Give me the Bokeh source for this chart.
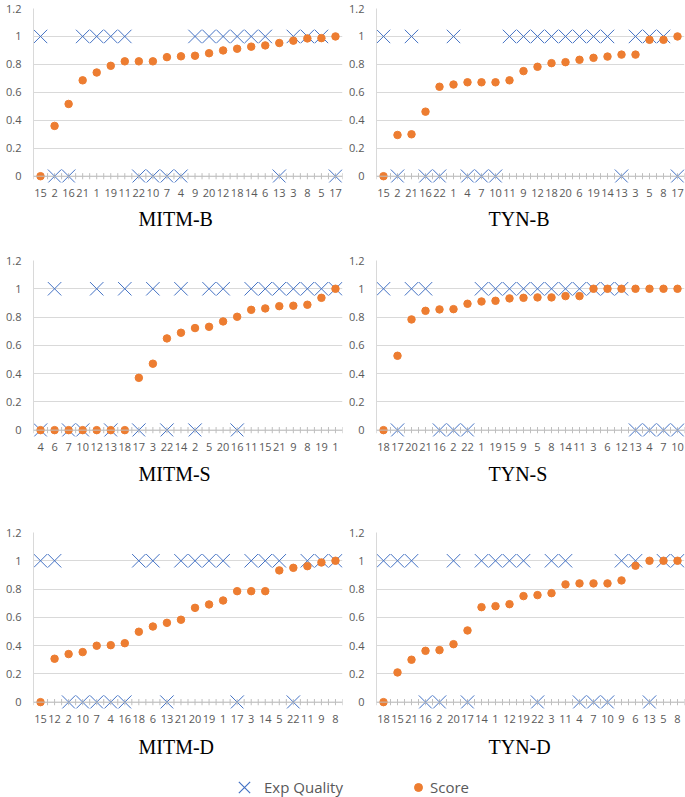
from bokeh.plotting import figure
from bokeh.models import (FactorRange, Range1d, FixedTicker, Span, Legend, LegendItem, Title,
                          ColumnDataSource)
from bokeh.transform import dodge
from bokeh.layouts import column, row
from bokeh.embed import file_html
from bokeh.resources import INLINE

# ---------------- data ----------------
mitm_b_cats = ["15", "2", "16", "21", "1", "19", "11", "22", "10", "7", "4",
               "9", "20", "12", "18", "14", "6", "13", "3", "8", "5", "17"]
mitm_b_exp = [1, 0, 0, 1, 1, 1, 1, 0, 0, 0, 0, 1, 1, 1, 1, 1, 1, 0, 1, 1, 1, 0]
mitm_b_score = [0, 0.36, 0.517, 0.686, 0.742, 0.79, 0.822, 0.822, 0.822, 0.852, 0.858,
                0.862, 0.88, 0.9, 0.912, 0.927, 0.936, 0.953, 0.97, 0.986, 0.988, 1.0]

tyn_b_cats = ["15", "2", "21", "16", "22", "1", "4", "7", "10", "11", "9",
              "12", "18", "20", "6", "19", "14", "13", "3", "5", "8", "17"]
tyn_b_exp = [1, 0, 1, 0, 0, 1, 0, 0, 0, 1, 1, 1, 1, 1, 1, 1, 1, 0, 1, 1, 1, 0]
tyn_b_score = [0, 0.295, 0.30, 0.462, 0.64, 0.656, 0.672, 0.672, 0.672, 0.686, 0.752,
               0.783, 0.809, 0.816, 0.833, 0.847, 0.856, 0.87, 0.87, 0.976, 0.976, 1.0]

mitm_s_cats = ["4", "6", "7", "10", "12", "13", "18", "17", "3", "22", "14",
               "2", "5", "20", "16", "11", "15", "21", "9", "8", "19", "1"]
mitm_s_exp = [0, 1, 0, 0, 1, 0, 1, 0, 1, 0, 1, 0, 1, 1, 0, 1, 1, 1, 1, 1, 1, 1]
mitm_s_score = [0, 0, 0, 0, 0, 0, 0, 0.37, 0.47, 0.649, 0.689,
                0.722, 0.731, 0.769, 0.802, 0.851, 0.861, 0.877, 0.88, 0.887, 0.936, 1.0]

tyn_s_cats = ["18", "17", "20", "21", "16", "2", "22", "1", "19", "15", "9",
              "5", "8", "14", "11", "3", "6", "12", "13", "4", "7", "10"]
tyn_s_exp = [1, 0, 1, 1, 0, 0, 0, 1, 1, 1, 1, 1, 1, 1, 1, 1, 1, 1, 0, 0, 0, 0]
tyn_s_score = [0, 0.526, 0.783, 0.844, 0.854, 0.856, 0.894, 0.91, 0.915, 0.932, 0.936,
               0.939, 0.939, 0.948, 0.948, 1.0, 1.0, 1.0, 1.0, 1.0, 1.0, 1.0]

mitm_d_cats = ["15", "12", "2", "10", "7", "4", "16", "18", "6", "13", "21",
               "20", "19", "1", "17", "3", "14", "5", "22", "11", "9", "8"]
mitm_d_exp = [1, 1, 0, 0, 0, 0, 0, 1, 1, 0, 1, 1, 1, 1, 0, 1, 1, 1, 0, 1, 1, 1]
mitm_d_score = [0, 0.307, 0.34, 0.354, 0.399, 0.403, 0.417, 0.498, 0.535, 0.561, 0.583,
                0.667, 0.691, 0.719, 0.785, 0.785, 0.785, 0.932, 0.95, 0.962, 0.988, 1.0]

tyn_d_cats = ["18", "15", "21", "16", "2", "20", "17", "14", "1", "12", "19",
              "22", "3", "11", "4", "7", "10", "9", "6", "13", "5", "8"]
tyn_d_exp = [1, 1, 1, 0, 0, 1, 0, 1, 1, 1, 1, 0, 1, 1, 0, 0, 0, 1, 1, 0, 1, 1]
tyn_d_score = [0, 0.21, 0.30, 0.363, 0.368, 0.41, 0.507, 0.672, 0.679, 0.693, 0.75,
               0.757, 0.771, 0.833, 0.84, 0.84, 0.84, 0.861, 0.965, 1.0, 1.0, 1.0]

y_ticks = [0, 0.2, 0.4, 0.6, 0.8, 1, 1.2]
y_labels = ["0", "0.2", "0.4", "0.6", "0.8", "1", "1.2"]

series_names = ["Exp Quality", "Score"]

BLUE = "#4472C4"
ORANGE = "#ED7D31"
TXT = "#595959"
AXIS = "#bfbfbf"
FONT = "Open Sans"


def panel(name, cats, exp, score, left_col, height, bottom, title_off, title_standoff):
    bl = 33 if left_col else 32
    br = 2 if left_col else 1
    fw = 309 if left_col else 308
    p = figure(width=bl + fw + br, height=height,
               x_range=FactorRange(factors=cats), y_range=Range1d(-0.045, 1.2),
               output_backend="svg", toolbar_location=None,
               min_border_left=bl, min_border_right=br,
               min_border_top=8, min_border_bottom=bottom)
    p.outline_line_color = None
    p.xgrid.visible = False
    p.yaxis.ticker = FixedTicker(ticks=y_ticks)
    p.yaxis.major_label_overrides = dict(zip(y_ticks, y_labels))
    p.ygrid.grid_line_color = "#d9d9d9"
    p.ygrid.grid_line_width = 1
    p.yaxis.axis_line_color = "#d9d9d9"
    p.yaxis.bounds = (0, 1.2)
    p.yaxis.major_tick_line_color = None
    p.yaxis.minor_tick_line_color = None
    p.yaxis.major_label_standoff = 6
    p.yaxis.major_label_text_font = FONT
    p.yaxis.major_label_text_font_size = "11px"
    p.yaxis.major_label_text_color = TXT

    p.xaxis.axis_line_color = None
    p.xaxis.major_tick_line_color = None
    p.xaxis.major_label_standoff = 0
    p.xaxis.major_label_text_font = FONT
    p.xaxis.major_label_text_font_size = "11px"
    p.xaxis.major_label_text_color = TXT

    # category axis line at y = 0 with cross tick marks (centres and boundaries)
    p.add_layout(Span(location=0, dimension="width", line_color=AXIS, line_width=1))
    src = ColumnDataSource(dict(x=cats, exp=exp, score=score))
    for off in (-0.5, 0.0):
        p.segment(x0=dodge("x", off, range=p.x_range), y0=-0.022,
                  x1=dodge("x", off, range=p.x_range), y1=0.022,
                  source=src, line_color=AXIS, line_width=1)
    last = ColumnDataSource(dict(x=cats[-1:]))
    p.segment(x0=dodge("x", 0.5, range=p.x_range), y0=-0.022,
              x1=dodge("x", 0.5, range=p.x_range), y1=0.022,
              source=last, line_color=AXIS, line_width=1)

    p.scatter(x="x", y="exp", source=src, marker="x", size=19,
              line_color=BLUE, line_width=1.0)
    p.scatter(x="x", y="score", source=src, marker="circle", size=7.5,
              fill_color=ORANGE, line_color=ORANGE)

    t = Title(text=name, align="left", offset=title_off, text_font="Liberation Serif",
              text_font_size="20px", text_font_style="normal", text_color="black",
              standoff=title_standoff)
    p.add_layout(t, "below")
    return p


L_OFF = 105
R_OFF = 112

f1 = panel("MITM-B", mitm_b_cats, mitm_b_exp, mitm_b_score, True, 252, 70, L_OFF, 13)
f2 = panel("TYN-B", tyn_b_cats, tyn_b_exp, tyn_b_score, False, 252, 70, R_OFF, 13)
f3 = panel("MITM-S", mitm_s_cats, mitm_s_exp, mitm_s_score, True, 272, 88, L_OFF, 15)
f4 = panel("TYN-S", tyn_s_cats, tyn_s_exp, tyn_s_score, False, 272, 88, R_OFF, 15)
f5 = panel("MITM-D", mitm_d_cats, mitm_d_exp, mitm_d_score, True, 249, 65, L_OFF, 16)
f6 = panel("TYN-D", tyn_d_cats, tyn_d_exp, tyn_d_score, False, 249, 65, R_OFF, 16)

# legend strip (its sample points sit outside the visible range; only the icons show)
leg = figure(width=685, height=24, output_backend="svg", toolbar_location=None,
             x_range=Range1d(0, 1), y_range=Range1d(5, 6),
             x_axis_location=None, y_axis_location=None, min_border=0)
leg.outline_line_color = None
leg.grid.visible = False
r1 = leg.scatter(x=mitm_b_exp[:1], y=mitm_b_exp[:1], marker="x", size=12,
                 line_color=BLUE, line_width=1.2)
r2 = leg.scatter(x=mitm_b_score[-1:], y=mitm_b_score[-1:], marker="circle", size=7.5,
                 fill_color=ORANGE, line_color=ORANGE)
common = dict(orientation="horizontal", padding=0, margin=0, border_line_color=None,
              background_fill_alpha=0, label_text_font=FONT, label_text_font_size="15px",
              label_text_color=TXT)
legend_x = Legend(items=[LegendItem(label=series_names[0], renderers=[r1])],
                  location=(224, -10), glyph_width=40, glyph_height=40,
                  label_standoff=0, **common)
legend_o = Legend(items=[LegendItem(label=series_names[1], renderers=[r2])],
                  location=(408, 0), glyph_width=20, glyph_height=20,
                  label_standoff=2, **common)
leg.add_layout(legend_x, "center")
leg.add_layout(legend_o, "center")

layout = column(row(f1, f2), row(f3, f4), row(f5, f6), leg)

with open("out.html", "w") as fh:
    fh.write(file_html(layout, INLINE))
